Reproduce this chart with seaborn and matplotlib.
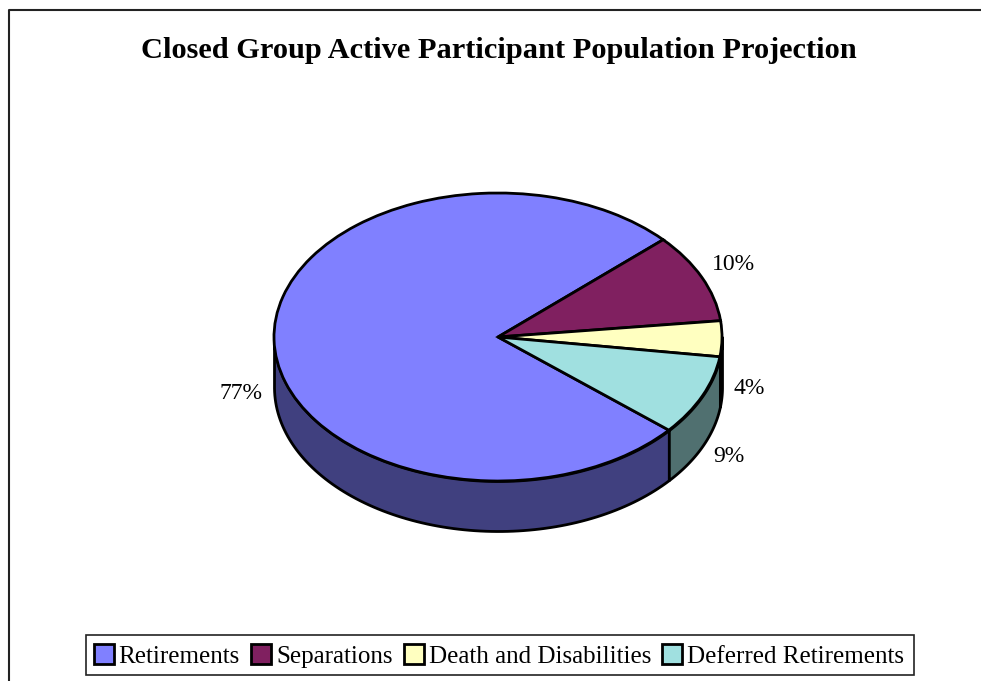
import numpy as np
import seaborn as sns
import matplotlib.pyplot as plt
from matplotlib.patches import Rectangle

# Data
categories = ["Retirements", "Separations", "Death and Disabilities", "Deferred Retirements"]
values = [77, 10, 4, 9]
top_colors = ["#8080FF", "#802060", "#FFFFC0", "#A0E0E0"]
side_colors = ["#40407F", "#40102F", "#7F7F60", "#507070"]
title = "Closed Group Active Participant Population Projection"

sns.set_theme(style="white")
plt.rcParams["font.family"] = ["Liberation Serif", "DejaVu Serif"]

W, H = 981, 681
cx, cy, rx, ry = 498, 337, 224, 144
depth = 50 / ry
start = 319.7

fig = plt.figure(figsize=(W / 100, H / 100), dpi=100, facecolor="white")
ax = fig.add_axes([0, 0, 1, 1])

# Side wall of the pie, front half only
hi = start
for val, col in zip(values, side_colors):
    lo = hi - val * 3.6
    theta = np.radians(np.linspace(lo, hi, 200))
    keep = np.sin(theta) <= 0
    if keep.any():
        x = np.cos(theta[keep])
        y = np.sin(theta[keep])
        ax.fill_between(x, y, y - depth, facecolor=col, edgecolor="black", linewidth=2, zorder=1)
    hi = lo

# Top of the pie
wedges, _ = ax.pie(values, colors=top_colors, startangle=start, counterclock=False,
                   wedgeprops={"edgecolor": "black", "linewidth": 2, "zorder": 2})
ax.set_aspect("auto")
ax.set_xlim((0 - cx) / rx, (W - cx) / rx)
ax.set_ylim((cy - H) / ry, cy / ry)
ax.axis("off")


# Everything else is placed in pixels of the picture
def to_fig(px, py):
    return px / W, 1 - py / H


fig.text(*to_fig(499, 50), title, ha="center", va="center", fontsize=21.9, fontweight="bold", color="black")

label_pos = [(241, 393), (733, 265), (749, 389), (729, 457)]
for val, pos in zip(values, label_pos):
    fig.text(*to_fig(*pos), f"{val}%", ha="center", va="center", fontsize=17, color="black")

# Outer frame, open on the right and at the bottom
fig.add_artist(plt.Line2D([9 / W, 9 / W, 1], [0, 1 - 10 / H, 1 - 10 / H], color="#222222", linewidth=1.5))

# Legend
fig.add_artist(Rectangle(to_fig(86, 675), 828 / W, 40 / H, facecolor="white",
                         edgecolor="#222222", linewidth=1.2, transform=fig.transFigure))
leg = fig.legend(wedges, categories, loc="center", bbox_to_anchor=to_fig(499, 656), ncol=4,
                 frameon=False, fontsize=18, handlelength=0.8, handleheight=0.8,
                 handletextpad=0.2, columnspacing=0.45, borderpad=0, labelcolor="black")

fig.savefig("out.png", dpi=100)
